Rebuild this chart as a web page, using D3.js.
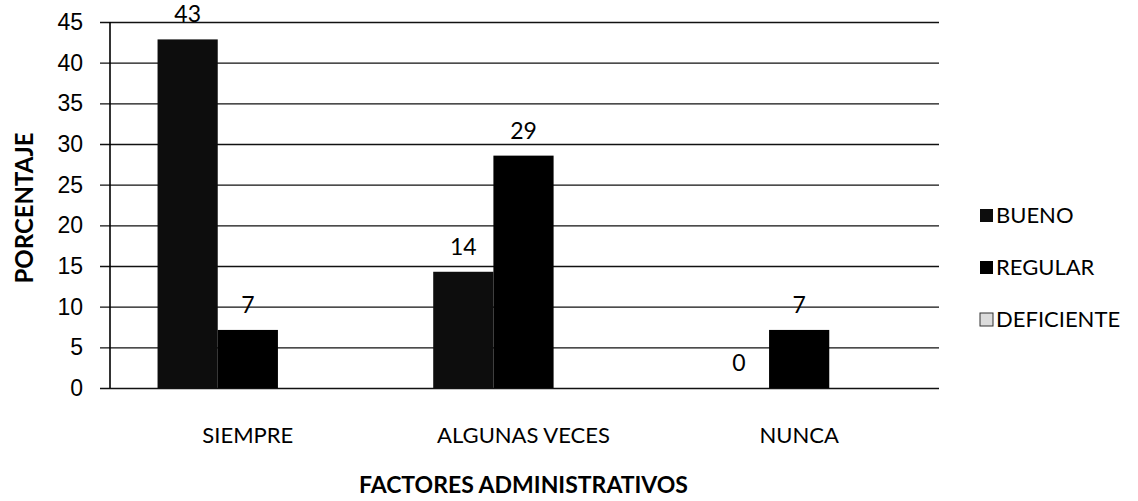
<!DOCTYPE html>
<html>
<head>
<meta charset="utf-8">
<script src="https://cdn.jsdelivr.net/npm/d3@7"></script>
<style>
  body { margin: 0; background: #fff; }
  svg { font-family: Lato, "Open Sans", sans-serif; }
</style>
</head>
<body>
<div id="chart"></div>
<script>
var categories = ["SIEMPRE", "ALGUNAS VECES", "NUNCA"];
var seriesNames = ["BUENO", "REGULAR", "DEFICIENTE"];
// percentages (n = 14), labels are rounded
var bueno = [42.86, 14.29, 0];
var regular = [7.14, 28.57, 7.14];
var deficiente = [0, 0, 0];
var yTicks = [0, 5, 10, 15, 20, 25, 30, 35, 40, 45];

var width = 1138, height = 501;
var margin = {top: 22, left: 110, right: 201, bottom: 113};

  //build the chart
  function drawChart(){

    var svg = d3.select("#chart").append("svg")
        .attr("width", width)
        .attr("height", height);

    var x = d3.scaleBand()
        .domain(categories)
        .range([margin.left, width - margin.right]);

    var x1 = d3.scaleBand()
        .domain(seriesNames)
        .range([0, x.bandwidth()])
        .paddingOuter(0.79);

    var y = d3.scaleLinear()
        .domain([0, 45])
        .range([height - margin.bottom, margin.top]);

    var fills = {"BUENO": "#0d0d0d", "REGULAR": "#000", "DEFICIENTE": "#dcdcdc"};
    var values = {"BUENO": bueno, "REGULAR": regular, "DEFICIENTE": deficiente};

    //gridlines and ticks
    var yAxis = d3.axisLeft(y)
        .tickValues(yTicks)
        .tickSize(-(width - margin.right - margin.left + 2))
        .tickPadding(17)
        .tickSizeOuter(0);

    var gy = svg.append("g")
        .attr("transform", "translate(" + (margin.left - 10) + ",0)")
        .call(yAxis);
    gy.select(".domain").remove();
    gy.selectAll("line")
        .attr("x1", 0)
        .attr("x2", width - margin.right - margin.left + 12)
        .attr("stroke", "#111")
        .attr("stroke-width", 1.4);
    gy.selectAll("text")
        .attr("x", -17)
        .style("font-size", "23px")
        .attr("fill", "#000");

    //vertical axis line
    svg.append("line")
        .attr("x1", margin.left).attr("x2", margin.left)
        .attr("y1", y(45)).attr("y2", y(0))
        .attr("stroke", "#000")
        .attr("stroke-width", 1.6);

    //bars
    var rows = [];
    categories.forEach(function(c, i){
      seriesNames.forEach(function(s){
        rows.push({cat: c, series: s, value: values[s][i]});
      });
    });

    svg.append("g").selectAll("rect")
      .data(rows.filter(function(d){ return d.value > 0; }))
      .enter().append("rect")
        .attr("x", function(d){ return x(d.cat) + x1(d.series); })
        .attr("y", function(d){ return y(d.value); })
        .attr("width", x1.bandwidth())
        .attr("height", function(d){ return y(0) - y(d.value); })
        .attr("fill", function(d){ return fills[d.series]; });

    //data labels (DEFICIENTE has none)
    svg.append("g").selectAll("text")
      .data(rows.filter(function(d){ return d.series != "DEFICIENTE"; }))
      .enter().append("text")
        .attr("x", function(d){ return x(d.cat) + x1(d.series) + x1.bandwidth() / 2; })
        .attr("y", function(d){ return y(d.value) - 17; })
        .attr("text-anchor", "middle")
        .style("font-size", "23px")
        .text(function(d){ return Math.round(d.value); });

    //category labels
    svg.append("g").selectAll("text")
      .data(categories)
      .enter().append("text")
        .attr("x", function(d){ return x(d) + x.bandwidth() / 2; })
        .attr("y", 443)
        .attr("text-anchor", "middle")
        .style("font-size", "22px")
        .text(function(d){ return d; });

    //axis titles
    svg.append("text")
        .attr("x", x.range()[0] + (x.range()[1] - x.range()[0]) / 2)
        .attr("y", 493)
        .attr("text-anchor", "middle")
        .style("font-size", "23px")
        .style("font-weight", "bold")
        .text("FACTORES ADMINISTRATIVOS");

    svg.append("text")
        .attr("transform", "translate(33,208) rotate(-90)")
        .attr("text-anchor", "middle")
        .style("font-size", "24px")
        .style("font-weight", "bold")
        .text("PORCENTAJE");

    //legend
    var legend = svg.append("g").selectAll("g")
      .data(seriesNames)
      .enter().append("g")
        .attr("transform", function(d, i){ return "translate(980," + (209 + i * 52) + ")"; });

    legend.append("rect")
        .attr("width", 13).attr("height", 13)
        .attr("fill", function(d){ return fills[d]; })
        .attr("stroke", function(d){ return d == "DEFICIENTE" ? "#333" : "none"; });

    legend.append("text")
        .attr("x", 16)
        .attr("y", 14)
        .style("font-size", "22px")
        .text(function(d){ return d; });
  };

drawChart();
</script>
</body>
</html>
